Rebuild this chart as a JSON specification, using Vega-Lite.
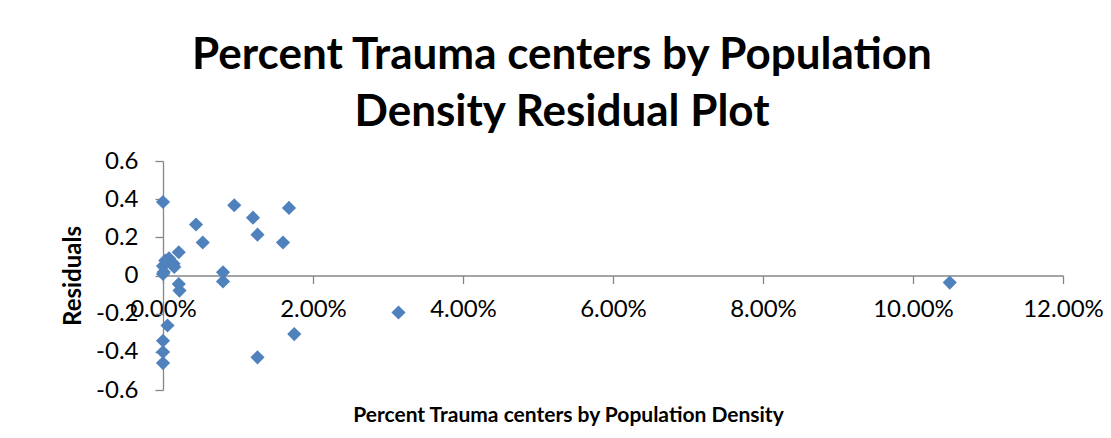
{
  "$schema": "https://vega.github.io/schema/vega-lite/v6.json",
  "autosize": {"type": "none"},
  "padding": {"left": 163, "top": 161, "right": 48, "bottom": 48},
  "width": 900,
  "height": 229,
  "background": "white",
  "title": {
    "text": ["Percent Trauma centers by Population", "Density Residual Plot"],
    "font": "Lato",
    "fontSize": 44,
    "fontWeight": "bold",
    "color": "#000000",
    "lineHeight": 57,
    "anchor": "middle",
    "dx": -51,
    "offset": 14
  },
  "data": {
    "values": [
      {"pct": 0.0000, "res": 0.385},
      {"pct": 0.0095, "res": 0.368},
      {"pct": 0.0168, "res": 0.354},
      {"pct": 0.0044, "res": 0.267},
      {"pct": 0.0120, "res": 0.303},
      {"pct": 0.0126, "res": 0.214},
      {"pct": 0.0053, "res": 0.173},
      {"pct": 0.0160, "res": 0.173},
      {"pct": 0.0021, "res": 0.122},
      {"pct": 0.0008, "res": 0.090},
      {"pct": 0.0003, "res": 0.078},
      {"pct": 0.0014, "res": 0.062},
      {"pct": 0.0000, "res": 0.050},
      {"pct": 0.0015, "res": 0.045},
      {"pct": 0.0001, "res": 0.018},
      {"pct": 0.0000, "res": 0.008},
      {"pct": 0.0080, "res": 0.017},
      {"pct": 0.0080, "res": -0.031},
      {"pct": 0.0021, "res": -0.045},
      {"pct": 0.0022, "res": -0.079},
      {"pct": 0.0314, "res": -0.194},
      {"pct": 0.0006, "res": -0.262},
      {"pct": 0.0175, "res": -0.307},
      {"pct": 0.0000, "res": -0.342},
      {"pct": 0.0000, "res": -0.401},
      {"pct": 0.0126, "res": -0.429},
      {"pct": 0.0000, "res": -0.459},
      {"pct": 0.1049, "res": -0.037}
    ]
  },
  "mark": {"type": "point", "shape": "diamond", "filled": true, "size": 200, "color": "#4F81BD", "opacity": 1},
  "encoding": {
    "x": {
      "field": "pct",
      "type": "quantitative",
      "scale": {"domain": [0, 0.12], "nice": false, "zero": false},
      "axis": {
        "title": "Percent Trauma centers by Population Density",
        "format": ".2%",
        "values": [0, 0.02, 0.04, 0.06, 0.08, 0.1, 0.12],
        "offset": -114.5,
        "grid": false,
        "domainColor": "#868686",
        "domainWidth": 1.3,
        "tickColor": "#868686",
        "tickWidth": 1.3,
        "tickSize": 8,
        "labelFont": "Lato",
        "labelFontSize": 24,
        "labelColor": "#000000",
        "labelPadding": 14,
        "labelFlush": false,
        "labelOverlap": false,
        "titleFont": "Lato",
        "titleFontSize": 21,
        "titleFontWeight": "bold",
        "titleColor": "#000000",
        "titleX": 405,
        "titleY": 146,
        "titleAlign": "center",
        "titleBaseline": "alphabetic"
      }
    },
    "y": {
      "field": "res",
      "type": "quantitative",
      "scale": {"domain": [-0.6, 0.6], "nice": false},
      "axis": {
        "title": "Residuals",
        "values": [-0.6, -0.4, -0.2, 0, 0.2, 0.4, 0.6],
        "labelExpr": "'' + datum.value",
        "grid": false,
        "domainColor": "#868686",
        "domainWidth": 1.3,
        "tickColor": "#868686",
        "tickWidth": 1.3,
        "tickSize": 8,
        "labelFont": "Lato",
        "labelFontSize": 24,
        "labelColor": "#000000",
        "labelPadding": 17,
        "labelFlush": false,
        "labelOverlap": false,
        "titleFont": "Lato",
        "titleFontSize": 24,
        "titleFontWeight": "bold",
        "titleColor": "#000000",
        "titlePadding": 10
      }
    }
  },
  "config": {"view": {"stroke": null}}
}
